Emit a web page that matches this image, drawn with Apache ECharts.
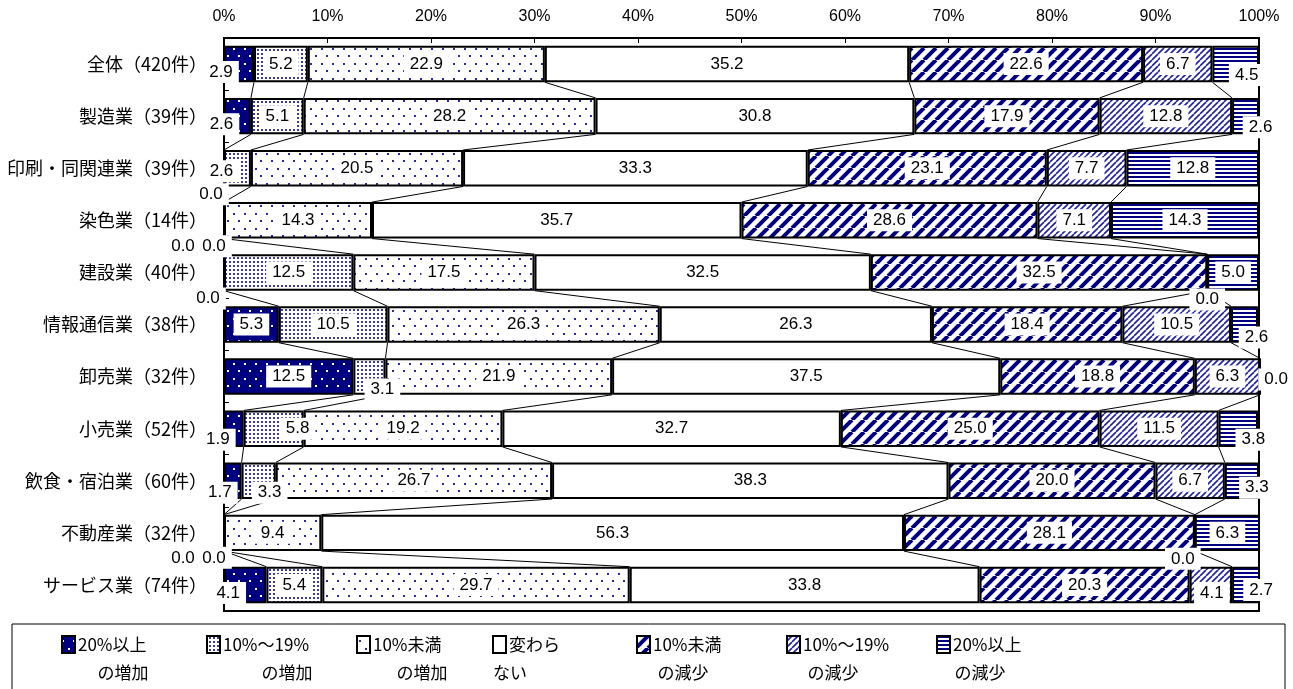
<!DOCTYPE html>
<html>
<head>
<meta charset="utf-8">
<script src="https://cdn.jsdelivr.net/npm/echarts@6/dist/echarts.min.js"></script>
<style>
  html, body { margin: 0; padding: 0; background: #fff; }
  #chart { width: 1293px; height: 689px; }
</style>
</head>
<body>
<div id="chart"></div>
<script>
// Industry breakdown (top to bottom)
const categories = [
  '全体（420件）', '製造業（39件）', '印刷・同関連業（39件）', '染色業（14件）',
  '建設業（40件）', '情報通信業（38件）', '卸売業（32件）', '小売業（52件）',
  '飲食・宿泊業（60件）', '不動産業（32件）', 'サービス業（74件）'
];

// Share of respondents (%) per answer
const incOver20  = [2.9, 2.6, 0.0, 0.0, 0.0, 5.3, 12.5, 1.9, 1.7, 0.0, 4.1];
const inc10to19  = [5.2, 5.1, 2.6, 0.0, 12.5, 10.5, 3.1, 5.8, 3.3, 0.0, 5.4];
const incUnder10 = [22.9, 28.2, 20.5, 14.3, 17.5, 26.3, 21.9, 19.2, 26.7, 9.4, 29.7];
const noChange   = [35.2, 30.8, 33.3, 35.7, 32.5, 26.3, 37.5, 32.7, 38.3, 56.3, 33.8];
const decUnder10 = [22.6, 17.9, 23.1, 28.6, 32.5, 18.4, 18.8, 25.0, 20.0, 28.1, 20.3];
const dec10to19  = [6.7, 12.8, 7.7, 7.1, 0.0, 10.5, 6.3, 11.5, 6.7, 0.0, 4.1];
const decOver20  = [4.5, 2.6, 12.8, 14.3, 5.0, 2.6, 0.0, 3.8, 3.3, 6.3, 2.7];

// Legend wording (two lines each)
const legendLine1 = ['20%以上', '10%～19%', '10%未満', '変わら', '10%未満', '10%～19%', '20%以上'];
const legendLine2 = ['の増加', 'の増加', 'の増加', 'ない', 'の減少', 'の減少', 'の減少'];

// Axis tick values
const xTicks = { min: 0, max: 100, interval: 10 };

// ---- styling / layout (not data) ----
const NAVY = '#000080';
const BAR_GAP = 0.30;

// label nudges for narrow segments: key "series,category" -> [dx, dy]
const labelNudge = {
  '0,0': [-18, 8], '0,1': [-16, 8], '1,2': [-16, 3], '0,2': [-13, 26],
  '0,3': [-41, 26], '1,3': [-10, 26], '0,4': [-16, 26], '5,4': [0, 27],
  '6,5': [12, 13], '1,6': [13, 13], '6,6': [16, 3],
  '0,7': [-16, 11], '1,7': [24, 0], '6,7': [15, 11],
  '0,8': [-13, 12], '1,8': [11, 12], '6,8': [15, 7],
  '0,9': [-41, 25], '1,9': [-10, 25], '5,9': [-12, 26],
  '0,10': [-17, 8], '5,10': [1, 8], '6,10': [15, 5],
  '6,0': [11, 11], '6,1': [15, 11]
};

// legend placement
const legendX = [62, 207, 357, 493, 637, 787, 937];
const legendLine2X = [123, 287, 422, 510, 683, 833, 980];

// ---- fill patterns ----
function tile(w, h, draw) {
  const c = document.createElement('canvas');
  c.width = w; c.height = h;
  const g = c.getContext('2d');
  g.fillStyle = '#fff';
  g.fillRect(0, 0, w, h);
  draw(g, w, h);
  return { image: c, repeat: 'repeat' };
}
const patterns = [
  // dark fill with white dots
  tile(11, 15, (g, w, h) => {
    g.fillStyle = NAVY; g.fillRect(0, 0, w, h);
    g.fillStyle = '#fff';
    g.fillRect(2, 3, 2, 2); g.fillRect(7, 10, 2, 2);
  }),
  // dense dots
  tile(4, 4, (g) => {
    g.fillStyle = '#3a3aa8';
    g.fillRect(1, 1, 2, 2);
  }),
  // sparse dots
  tile(11, 15, (g) => {
    g.fillStyle = '#2a2aa0';
    g.fillRect(2, 3, 2, 2); g.fillRect(7, 10, 2, 2);
  }),
  // plain
  tile(4, 4, () => {}),
  // wide diagonal stripes
  tile(12, 12, (g, w, h) => {
    g.strokeStyle = NAVY; g.lineWidth = 4;
    for (let o = -w; o <= w; o += w) {
      g.beginPath(); g.moveTo(o, h); g.lineTo(o + w, 0); g.stroke();
    }
  }),
  // fine diagonal stripes
  tile(6, 6, (g, w, h) => {
    g.strokeStyle = '#2020a0'; g.lineWidth = 1.6;
    for (let o = -w; o <= w; o += w) {
      g.beginPath(); g.moveTo(o, h); g.lineTo(o + w, 0); g.stroke();
    }
  }),
  // horizontal stripes
  tile(4, 4, (g) => {
    g.fillStyle = NAVY; g.fillRect(0, 0, 4, 2);
  })
];

const seriesValues = [incOver20, inc10to19, incUnder10, noChange, decUnder10, dec10to19, decOver20];

// cumulative right edges of each segment, per category
const cumulative = categories.map((_, ci) => {
  let acc = 0;
  return seriesValues.map(arr => (acc += arr[ci]));
});

const valueFont = '"Liberation Sans Narrow", "Liberation Sans", Arial, sans-serif';
const tickFont = '"Liberation Sans", Arial, sans-serif';
const jpFont = '"Noto Sans CJK JP", sans-serif';

const barSeries = seriesValues.map((vals, si) => ({
  name: legendLine1[si] + legendLine2[si],
  type: 'bar',
  stack: 'total',
  z: 2,
  clip: false,
  barCategoryGap: (BAR_GAP * 100) + '%',
  itemStyle: { color: patterns[si], borderColor: '#000', borderWidth: 2 },
  label: {
    show: true,
    position: 'inside',
    formatter: p => Number(p.value).toFixed(1),
    color: '#000',
    fontFamily: valueFont,
    fontSize: 17,
    backgroundColor: '#fff',
    padding: [3, 6, 2, 6]
  },
  emphasis: { disabled: true },
  data: vals.map((v, ci) => {
    const nudge = labelNudge[si + ',' + ci];
    return nudge ? { value: v, label: { offset: nudge } } : v;
  })
}));

// thin connector lines between neighbouring bars
const connectorSeries = {
  type: 'custom',
  z: 1,
  silent: true,
  data: categories.slice(0, -1).map((_, i) => [0, i]),
  encode: { x: 0, y: 1 },
  renderItem: (params, api) => {
    const i = params.dataIndex;
    const band = api.size([0, 1])[1];
    const half = band * (1 - BAR_GAP) / 2;
    const children = [];
    for (let k = 0; k < 6; k++) {
      const a = api.coord([cumulative[i][k], i]);
      const b = api.coord([cumulative[i + 1][k], i + 1]);
      children.push({
        type: 'line',
        shape: { x1: a[0], y1: a[1] + half, x2: b[0], y2: b[1] - half },
        style: { stroke: '#000', lineWidth: 1 }
      });
    }
    return { type: 'group', children };
  }
};

// legend drawn as a framed row of swatches with two-line captions
const legendGraphics = [{
  type: 'rect',
  shape: { x: 12, y: 624, width: 1273, height: 80 },
  style: { fill: '#fff', stroke: '#000', lineWidth: 1 },
  z: 0
}];
legendLine1.forEach((t, j) => {
  legendGraphics.push({
    type: 'rect',
    shape: { x: legendX[j], y: 636, width: 13, height: 17 },
    style: { fill: patterns[j], stroke: '#000', lineWidth: 2 },
    z: 1
  });
  legendGraphics.push({
    type: 'text',
    x: legendX[j] + 16, y: 645,
    style: { text: t, fill: '#000', font: '17px ' + jpFont, textAlign: 'left', textVerticalAlign: 'middle' },
    z: 1
  });
  legendGraphics.push({
    type: 'text',
    x: legendLine2X[j], y: 673,
    style: { text: legendLine2[j], fill: '#000', font: '17px ' + jpFont, textAlign: 'center', textVerticalAlign: 'middle' },
    z: 1
  });
});

const chart = echarts.init(document.getElementById('chart'));
chart.setOption({
  animation: false,
  backgroundColor: '#fff',
  grid: {
    left: 224, right: 34, top: 38, bottom: 78,
    show: true, borderColor: '#000', borderWidth: 2, backgroundColor: 'transparent'
  },
  xAxis: {
    type: 'value',
    position: 'top',
    min: xTicks.min, max: xTicks.max, interval: xTicks.interval,
    axisLine: { show: true, lineStyle: { color: '#000', width: 2 } },
    axisTick: { show: true, inside: true, length: 5, lineStyle: { color: '#000', width: 1 } },
    axisLabel: { formatter: '{value}%', color: '#000', fontSize: 16, fontFamily: tickFont, margin: 13 },
    splitLine: { show: false }
  },
  yAxis: {
    type: 'category',
    inverse: true,
    data: categories,
    axisLine: { show: true, lineStyle: { color: '#000', width: 2 } },
    axisTick: { show: true, inside: true, length: 5, lineStyle: { color: '#000', width: 1 } },
    axisLabel: { color: '#000', fontSize: 18, fontFamily: jpFont, margin: 17 }
  },
  graphic: legendGraphics,
  series: [connectorSeries, ...barSeries]
});
</script>
</body>
</html>
